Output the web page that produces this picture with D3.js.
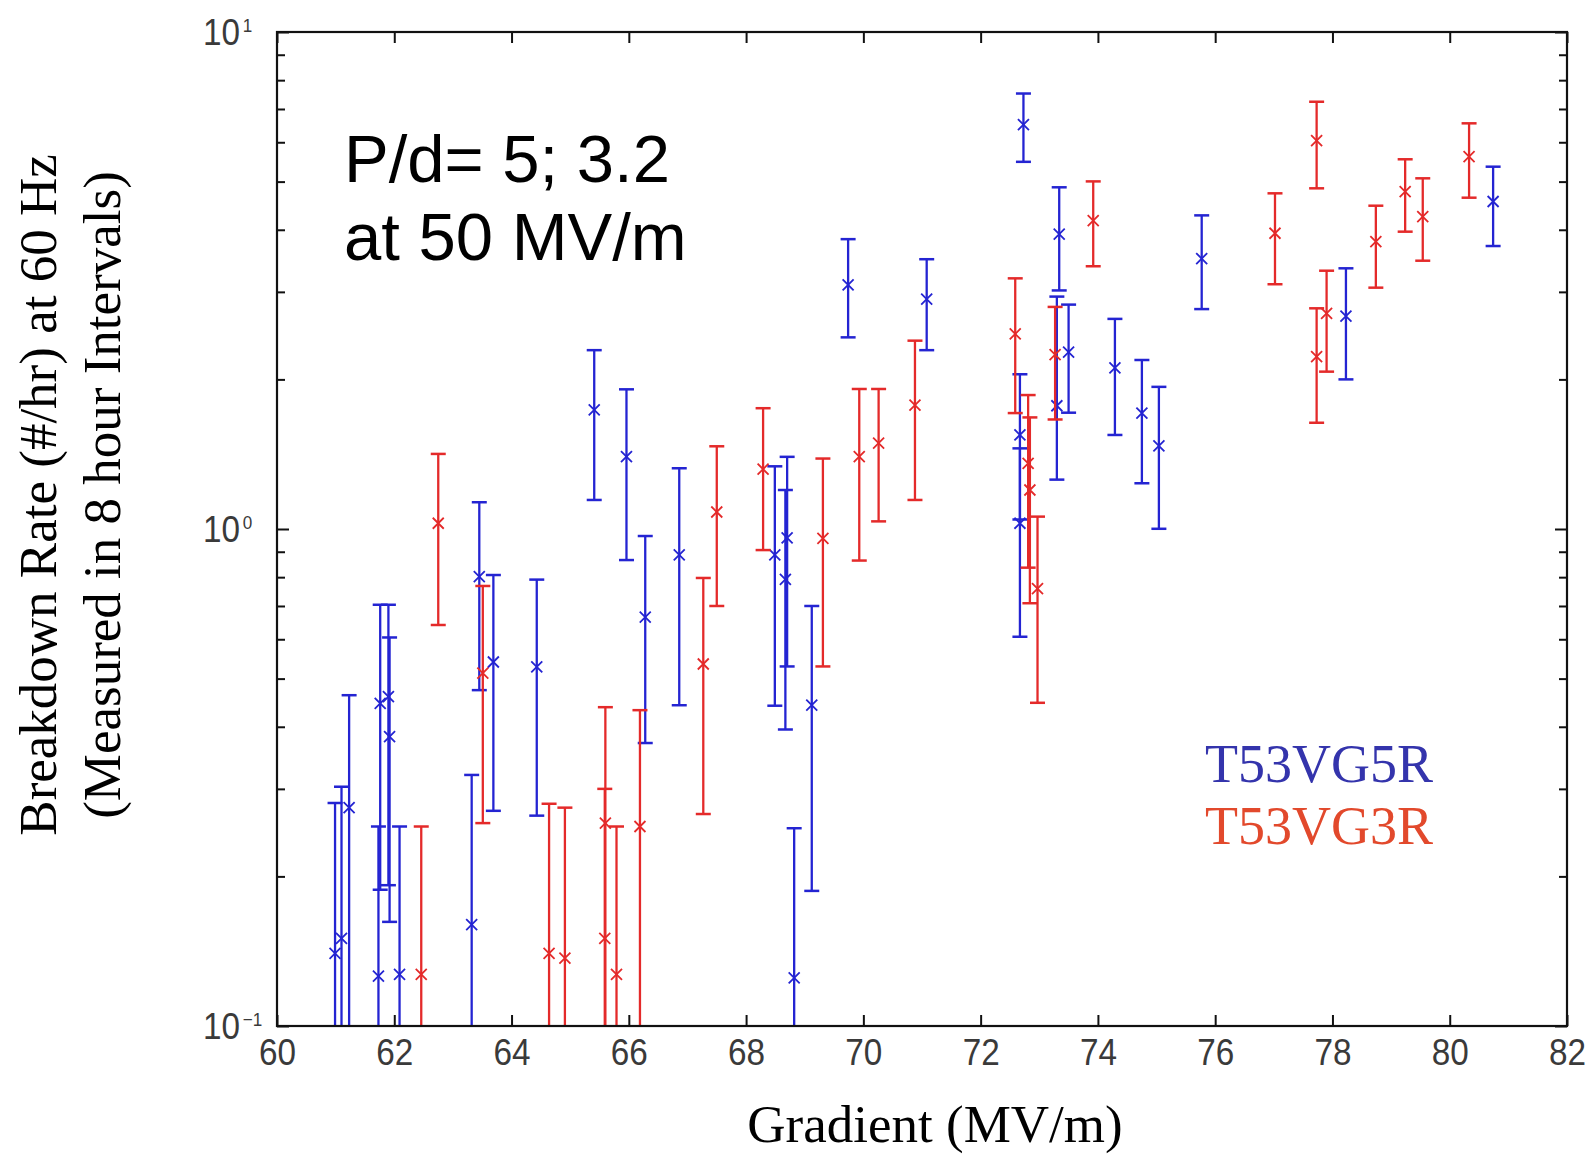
<!DOCTYPE html>
<html>
<head>
<meta charset="utf-8">
<script src="https://cdn.jsdelivr.net/npm/d3@7"></script>
<style>
  body { margin: 0; background: #fff; }
  svg { display: block; }
</style>
</head>
<body>
<main></main>
<script>
// gradient (MV/m), breakdown rate (#/hr) and error bar ends for each structure
const blueX = [60.99, 61.10, 61.23, 61.73, 61.76, 61.90, 61.92, 62.09, 63.32, 63.45, 63.69, 64.43,
    65.41, 65.96, 66.28, 66.86, 68.49, 68.70, 68.67, 68.82, 69.12, 69.74, 71.08, 72.67, 72.67,
    72.73, 73.34, 73.30, 73.50, 74.29, 74.75, 75.04, 75.77, 78.23, 80.74];
const blueRate = [0.140, 0.150, 0.275, 0.126, 0.446, 0.460, 0.382, 0.127, 0.160, 0.802, 0.540, 0.528,
    1.736, 1.398, 0.665, 0.887, 0.887, 0.960, 0.792, 0.125, 0.442, 3.10, 2.90, 1.027, 1.546,
    6.51, 3.92, 1.77, 2.27, 2.11, 1.71, 1.47, 3.50, 2.68, 4.56];
const blueLo = [0, 0, 0.086, 0, 0.188, 0.192, 0.162, 0, 0, 0.474, 0.271, 0.265,
    1.144, 0.866, 0.371, 0.442, 0.441, 0.529, 0.395, 0, 0.187, 2.43, 2.29, 0.607, 1.045,
    5.48, 3.02, 1.257, 1.714, 1.546, 1.236, 1.001, 2.77, 2.00, 3.71];
const blueHi = [0.281, 0.303, 0.463, 0.252, 0.704, 0.704, 0.605, 0.252, 0.320, 1.132, 0.808, 0.791,
    2.29, 1.91, 0.968, 1.325, 1.337, 1.397, 1.198, 0.250, 0.700, 3.83, 3.49, 1.453, 2.048,
    7.52, 4.87, 2.935, 2.828, 2.647, 2.188, 1.932, 4.276, 3.346, 5.358];

const redX = [62.46, 62.75, 63.51, 64.64, 64.91, 65.59, 65.60, 65.79, 66.19, 67.27, 67.50, 68.29,
    69.31, 69.93, 70.26, 70.88, 72.59, 72.81, 72.84, 72.97, 73.27, 73.92, 77.02, 77.73, 77.73,
    77.90, 78.74, 79.24, 79.54, 80.33];
const redRate = [0.127, 1.027, 0.513, 0.140, 0.137, 0.150, 0.256, 0.127, 0.252, 0.535, 1.082, 1.319,
    0.957, 1.398, 1.488, 1.776, 2.469, 1.356, 1.198, 0.759, 2.243, 4.172, 3.936, 6.043, 2.222,
    2.716, 3.785, 4.771, 4.250, 5.612];
const redLo = [0, 0.641, 0.256, 0, 0, 0, 0.074, 0, 0.071, 0.267, 0.700, 0.907,
    0.529, 0.864, 1.036, 1.144, 1.711, 0.836, 0.709, 0.447, 1.661, 3.378, 3.108, 4.847, 1.636,
    2.073, 3.059, 3.965, 3.466, 4.641];
const redHi = [0.252, 1.416, 0.768, 0.280, 0.275, 0.300, 0.438, 0.252, 0.432, 0.797, 1.467, 1.750,
    1.386, 1.913, 1.913, 2.393, 3.194, 1.860, 1.677, 1.059, 2.798, 5.005, 4.736, 7.239, 2.780,
    3.309, 4.472, 5.545, 5.077, 6.550];

const xTicks = [60, 62, 64, 66, 68, 70, 72, 74, 76, 78, 80, 82];
const yMajor = [0.1, 1, 10];
const yExponents = ["\u22121", "0", "1"];
const seriesNames = ["T53VG5R", "T53VG3R"];

const width = 1589;
const height = 1157;
const plotLeft = 277, plotRight = 1567, plotTop = 32, plotBottom = 1026;
const blue = "#2424d2";
const red = "#e42a2a";

const x = d3.scaleLinear().domain([60, 82]).range([plotLeft, plotRight]);
const y = d3.scaleLog().domain([0.1, 10]).range([plotBottom, plotTop]);

const svg = d3.select("main")
    .append("svg")
    .attr("width", width)
    .attr("height", height);

// error bars + markers
function drawSeries(xs, rates, los, his, color) {
    const pts = xs.map((v, i) => ({x: v, r: rates[i], lo: Math.max(los[i], 0.1), hi: his[i]}));
    const g = svg.append("g")
        .attr("stroke", color)
        .attr("fill", "none");

    g.selectAll(".bar").data(pts).enter().append("line")
        .attr("x1", d => x(d.x)).attr("x2", d => x(d.x))
        .attr("y1", d => y(d.lo)).attr("y2", d => y(d.hi))
        .attr("stroke-width", 2.3);

    // caps (bottom cap only when inside the plot)
    g.selectAll(".capHi").data(pts).enter().append("line")
        .attr("x1", d => x(d.x) - 7.5).attr("x2", d => x(d.x) + 7.5)
        .attr("y1", d => y(d.hi)).attr("y2", d => y(d.hi))
        .attr("stroke-width", 2.5);
    g.selectAll(".capLo").data(pts.filter(d => d.lo > 0.1)).enter().append("line")
        .attr("x1", d => x(d.x) - 7.5).attr("x2", d => x(d.x) + 7.5)
        .attr("y1", d => y(d.lo)).attr("y2", d => y(d.lo))
        .attr("stroke-width", 2.5);

    g.selectAll(".mark").data(pts).enter().append("path")
        .attr("d", d => {
            const cx = x(d.x), cy = y(d.r), s = 5.5;
            return `M${cx - s},${cy - s}L${cx + s},${cy + s}M${cx - s},${cy + s}L${cx + s},${cy - s}`;
        })
        .attr("stroke-width", 1.8);
}

drawSeries(blueX, blueRate, blueLo, blueHi, blue);
drawSeries(redX, redRate, redLo, redHi, red);

// axes box
svg.append("rect")
    .attr("x", plotLeft).attr("y", plotTop)
    .attr("width", plotRight - plotLeft).attr("height", plotBottom - plotTop)
    .attr("fill", "none")
    .attr("stroke", "#111")
    .attr("stroke-width", 2.2);

function styleAxis(g) {
    g.select(".domain").remove();
    g.selectAll(".tick line").attr("stroke", "#111").attr("stroke-width", 2);
}

// x ticks
svg.append("g")
    .attr("transform", `translate(0, ${plotBottom})`)
    .call(d3.axisBottom(x).tickValues(xTicks).tickSize(-11).tickPadding(13).tickFormat(d3.format("d")))
    .call(styleAxis)
    .call(g => g.selectAll("text")
        .attr("transform", "scale(0.9,1)")
        .attr("fill", "#3a3a3a")
        .style("font-family", "'Liberation Sans', Arial, sans-serif")
        .style("font-size", "37px"));

svg.append("g")
    .attr("transform", `translate(0, ${plotTop})`)
    .call(d3.axisTop(x).tickValues(xTicks).tickSize(-11).tickFormat(""))
    .call(styleAxis);

// y ticks: minor and major, both sides
const yMinor = y.ticks().filter(v => !yMajor.includes(v));
[[d3.axisLeft, plotLeft], [d3.axisRight, plotRight]].forEach(([axisFn, pos]) => {
    svg.append("g")
        .attr("transform", `translate(${pos}, 0)`)
        .call(axisFn(y).tickValues(yMinor).tickSize(-8).tickFormat(""))
        .call(styleAxis);
    svg.append("g")
        .attr("transform", `translate(${pos}, 0)`)
        .call(axisFn(y).tickValues(yMajor).tickSize(-12).tickFormat(""))
        .call(styleAxis);
});

// y tick labels as 10^n
yMajor.forEach((v, i) => {
    const t = svg.append("g")
        .attr("transform", `translate(203, ${y(v) + 12.5}) scale(0.9,1)`)
        .append("text")
        .attr("fill", "#3a3a3a")
        .style("font-family", "'Liberation Sans', Arial, sans-serif")
        .style("font-size", "37px");
    t.append("tspan").text("10");
    t.append("tspan")
        .attr("dy", -13)
        .attr("dx", 3)
        .style("font-size", "19px")
        .text(yExponents[i]);
});

// axis titles
svg.append("text")
    .attr("x", 935)
    .attr("y", 1142)
    .attr("text-anchor", "middle")
    .style("font-family", "'Liberation Serif', 'Times New Roman', serif")
    .style("font-size", "53px")
    .text("Gradient (MV/m)");

const yTitle = ["Breakdown Rate (#/hr) at 60 Hz", "(Measured in 8 hour Intervals)"];
[56, 120].forEach((bx, i) => {
    svg.append("text")
        .attr("transform", `translate(${bx}, 495) rotate(-90)`)
        .attr("text-anchor", "middle")
        .style("font-family", "'Liberation Serif', 'Times New Roman', serif")
        .style("font-size", "53px")
        .text(yTitle[i]);
});

// annotation
const note = ["P/d= 5; 3.2", "at 50 MV/m"];
note.forEach((s, i) => {
    svg.append("text")
        .attr("x", 344)
        .attr("y", 182 + i * 78)
        .style("font-family", "'Comic Sans MS', 'Liberation Sans', sans-serif")
        .style("font-size", "67px")
        .text(s);
});

// legend text
const legendColors = ["#3434ac", "#e2492c"];
seriesNames.forEach((s, i) => {
    svg.append("text")
        .attr("x", 1205)
        .attr("y", 782 + i * 61.5)
        .attr("fill", legendColors[i])
        .style("font-family", "'Liberation Serif', 'Times New Roman', serif")
        .style("font-size", "54px")
        .text(s);
});
</script>
</body>
</html>
